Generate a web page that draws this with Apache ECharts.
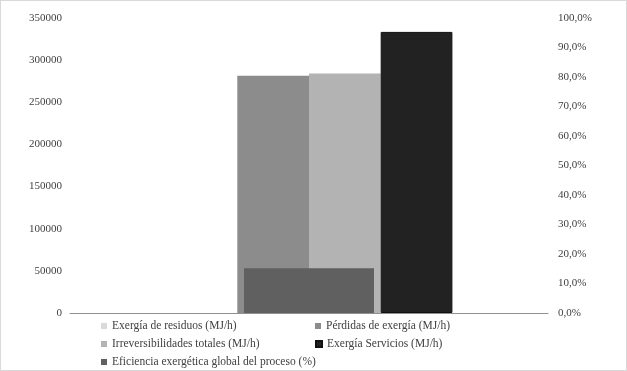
<!DOCTYPE html>
<html>
<head>
<meta charset="utf-8">
<script src="https://cdn.jsdelivr.net/npm/echarts@6/dist/echarts.min.js"></script>
<style>
html,body{margin:0;padding:0;background:#fff;}
#c{width:625px;height:369px;border:1px solid #d9d9d9;}
</style>
</head>
<body>
<div id="c"></div>
<script>
var categories = [''];
var residuos = [0];
var perdidas = [281500];
var irrevers = [284300];
var servicios = [333500];
var eficiencia = [0.152];
var leftTicks = [0, 50000, 100000, 150000, 200000, 250000, 300000, 350000];

var font = 'Liberation Serif';
var txt = {fontFamily: font, fontSize: 11, color: '#404040'};
function leg(name, left, top) {
  return {data: [name], left: left, top: top, icon: 'rect', itemWidth: 6, itemHeight: 6,
    itemGap: 0, padding: 0, textStyle: Object.assign({}, txt, {fontSize: 11.5})};
}
var chart = echarts.init(document.getElementById('c'));
chart.setOption({
  animation: false,
  backgroundColor: '#fff',
  grid: {left: 69, right: 78, top: 17, bottom: 57},
  legend: [
    leg('Exergía de residuos (MJ/h)', 100, 319),
    leg('Pérdidas de exergía (MJ/h)', 314, 319),
    leg('Irreversibilidades totales (MJ/h)', 100, 337),
    leg('Exergía Servicios (MJ/h)', 314, 337),
    leg('Eficiencia exergética global del proceso (%)', 100, 355)
  ],
  xAxis: [
    {type: 'category', data: categories, axisLine: {lineStyle: {color: '#909090', width: 1}},
     axisTick: {show: false}, axisLabel: {show: false}},
    {type: 'category', data: categories, show: false}
  ],
  yAxis: [
    {type: 'value', min: 0, max: leftTicks[leftTicks.length - 1], interval: 50000,
     splitLine: {show: false}, axisLine: {show: false}, axisTick: {show: false},
     axisLabel: Object.assign({}, txt, {margin: 8, formatter: function (v) { return String(v); }})},
    {type: 'value', min: 0, max: 1, interval: 0.1, position: 'right',
     splitLine: {show: false}, axisLine: {show: false}, axisTick: {show: false},
     axisLabel: Object.assign({}, txt, {margin: 10, formatter: function (v) {
       return (v * 100).toFixed(1).replace('.', ',') + '%';
     }})}
  ],
  series: [
    {name: 'Exergía de residuos (MJ/h)', type: 'bar', data: residuos, barGap: '0%', barCategoryGap: '40%',
     itemStyle: {color: '#d9d9d9'}},
    {name: 'Pérdidas de exergía (MJ/h)', type: 'bar', data: perdidas, itemStyle: {color: '#8c8c8c'}},
    {name: 'Irreversibilidades totales (MJ/h)', type: 'bar', data: irrevers, itemStyle: {color: '#b3b3b3'}},
    {name: 'Exergía Servicios (MJ/h)', type: 'bar', data: servicios, itemStyle: {color: '#222222', borderColor: '#111', borderWidth: 1}},
    {name: 'Eficiencia exergética global del proceso (%)', type: 'bar', data: eficiencia,
     xAxisIndex: 1, yAxisIndex: 1, barWidth: 130, z: 5, itemStyle: {color: '#606060'}}
  ]
});
</script>
</body>
</html>
